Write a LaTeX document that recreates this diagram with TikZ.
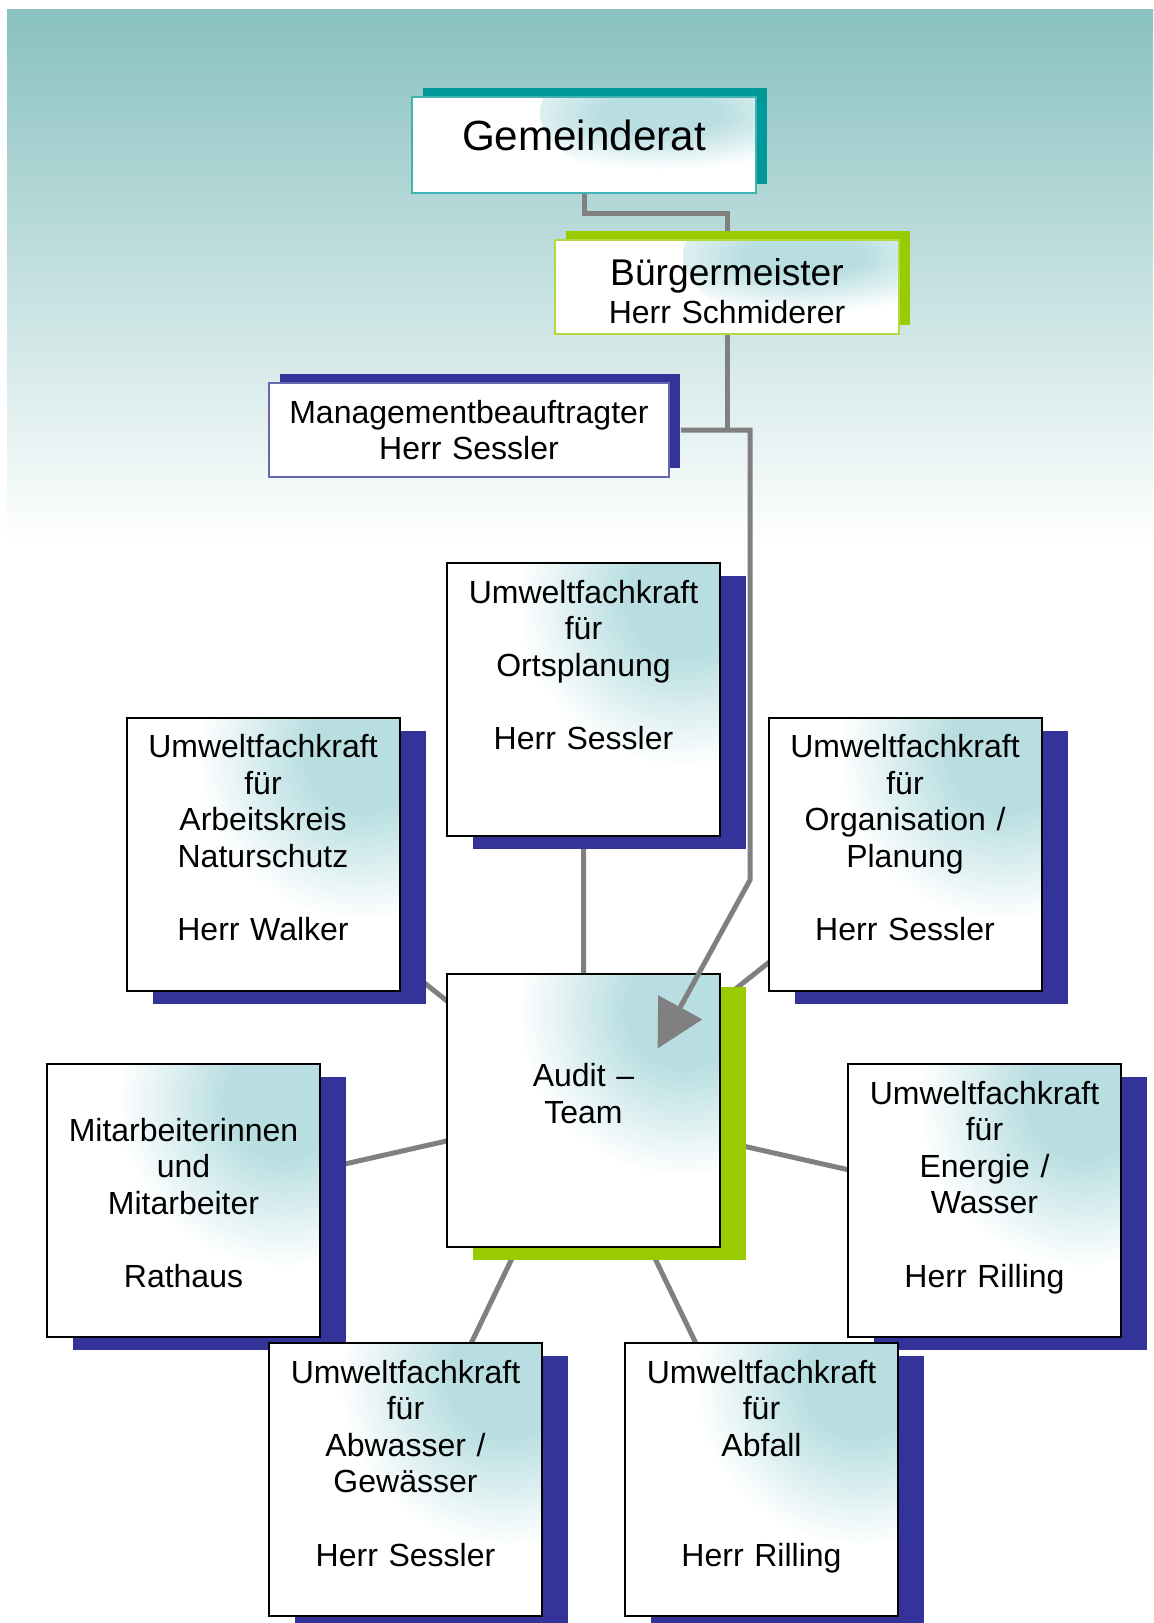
\documentclass[tikz,border=0pt]{standalone}
\usepackage{fontspec}
\setmainfont{Liberation Sans}
\usepackage{xcolor}
\usepackage{tikz}
\usetikzlibrary{shapes,arrows.meta,shadows}
\definecolor{bgteal}{RGB}{136,193,192}
\definecolor{glowteal}{RGB}{184,222,225}
\definecolor{navyblue}{HTML}{333399}
\definecolor{limegreen}{HTML}{99CC00}
\definecolor{petrol}{HTML}{009999}
\definecolor{linegray}{HTML}{808080}
\pgfdeclareradialshading{glowshade}{\pgfpointorigin}{color(0bp)=(glowteal); color(6bp)=(glowteal); color(17.6bp)=(white); color(50bp)=(white)}
\pgfdeclarelayer{bg}
\pgfdeclarelayer{lines}
\pgfsetlayers{bg,lines,main}
\tikzset{
  conn/.style={line width=2.5pt, linegray},
  glowfill/.style n args={3}{path picture={\shade[shading=glowshade] ([xshift=#1,yshift=#2]path picture bounding box.north east) ellipse (#3);}},
  topbox/.style={rectangle, draw=#1!75!white, line width=0.8pt, fill=white, inner sep=0pt, align=center, font=\fontsize{16}{18.33}\selectfont, drop shadow={fill=#1, opacity=1, shadow xshift=5.5pt, shadow yshift=4.5pt}},
  unit/.style={rectangle, draw=black, line width=1pt, fill=white, inner sep=0pt, text width=136.5pt, text height=20pt, text depth=116.5pt, align=center, font=\fontsize{16}{18.33}\selectfont, glowfill={-12pt}{-12pt}{112pt and 112pt}, drop shadow={fill=#1, opacity=1, shadow xshift=13pt, shadow yshift=-6.5pt}},
  unit/.default=navyblue
}

\begin{document}
\begin{tikzpicture}[x=0.5pt, y=-0.5pt]
\useasboundingbox (0,0) rectangle (1153,1623);
\begin{pgfonlayer}{bg}
\fill[top color=bgteal, bottom color=white] (7,9) rectangle (1153,545);
\end{pgfonlayer}

\node[topbox=petrol, text width=172pt, text height=26.8pt, text depth=21.2pt, font=\fontsize{21.1}{24}\selectfont, glowfill={-16pt}{-8pt}{92pt and 40pt}] (gem) at (584,145) {Gemeinderat};
\node[topbox=limegreen, text width=172pt, text height=22.7pt, text depth=24.3pt, glowfill={-16pt}{-8pt}{92pt and 40pt}] (buerg) at (727,287) {{\fontsize{18.6}{19.8}\selectfont Bürgermeister}\\[0.8pt]Herr Schmiderer};
\node[topbox=navyblue, text width=200pt, text height=20pt, text depth=27pt] (mgmt) at (469,430) {Managementbeauftragter\\Herr Sessler};

\node[unit] (ortsplanung) at (583.5,699.5) {Umweltfachkraft\\für\\Ortsplanung\\[\baselineskip]Herr Sessler};
\node[unit] (natur) at (263,854) {Umweltfachkraft\\für\\Arbeitskreis\\Naturschutz\\[\baselineskip]Herr Walker};
\node[unit] (organisation) at (905,854) {Umweltfachkraft\\für\\Organisation /\\Planung\\[\baselineskip]Herr Sessler};
\node[unit=limegreen, text height=56.7pt, text depth=79.8pt] (audit) at (583.5,1110) {Audit –\\Team};
\node[unit, text height=38.5pt, text depth=98pt] (mitarbeiter) at (183.5,1200.5) {Mitarbeiterinnen\\und\\Mitarbeiter\\[\baselineskip]Rathaus};
\node[unit] (energie) at (984.5,1200.5) {Umweltfachkraft\\für\\Energie /\\Wasser\\[\baselineskip]Herr Rilling};
\node[unit] (abwasser) at (405.5,1479.5) {Umweltfachkraft\\für\\Abwasser /\\Gewässer\\[\baselineskip]Herr Sessler};
\node[unit] (abfall) at (761.5,1479.5) {Umweltfachkraft\\für\\Abfall\\[2\baselineskip]Herr Rilling};

\begin{pgfonlayer}{lines}
\draw[conn] (gem.south) -- ++(0,20) -| (buerg.north);
\draw[conn] (buerg.south) -- (buerg.south |- mgmt.east);
\draw[conn] (audit.center) -- (ortsplanung.center) (audit.center) -- (natur.center)
  (audit.center) -- (organisation.center) (audit.center) -- (mitarbeiter.center)
  (audit.center) -- (energie.center) (audit.center) -- (abwasser.center)
  (audit.center) -- (abfall.center);
\end{pgfonlayer}

\coordinate (knick) at (750,880);
\coordinate (auditin) at ([xshift=-31.7pt,yshift=-38pt]audit.north east);
\draw[conn, -{Triangle[length=23.5pt,width=24.5pt]}] ([xshift=5.5pt]mgmt.east) -| (knick) -- (auditin);
\end{tikzpicture}
\end{document}
